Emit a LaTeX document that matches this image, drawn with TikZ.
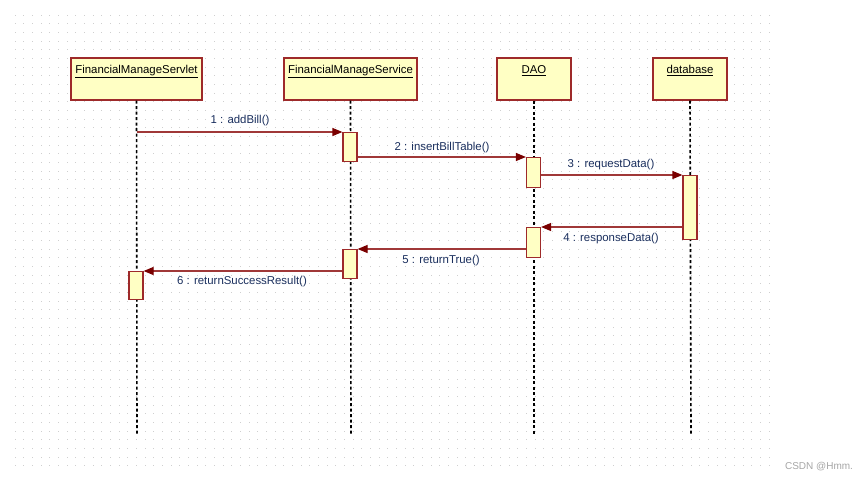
\documentclass[tikz,border=0pt]{standalone}
\usepackage{fontspec}
\setmainfont{Liberation Sans}
\usetikzlibrary{arrows.meta,calc}
\definecolor{boxfill}{HTML}{FFFFC4}
\definecolor{boxline}{HTML}{9E2A2A}
\definecolor{msgline}{HTML}{A03838}
\definecolor{tipcol}{HTML}{7A0000}
\definecolor{lblcol}{HTML}{1A2F5E}
\definecolor{gridcol}{HTML}{CFCFCF}
\tikzset{
  x=1pt, y=-1pt,
  objbox/.style={draw=boxline, fill=boxfill, line width=1.2pt, minimum height=42pt, inner sep=0pt},
  objtitle/.style={font=\fontsize{11.4}{13}\selectfont, text=black, inner sep=0pt, anchor=north},
  actbar/.style={draw=boxline, fill=boxfill, line width=1.2pt, minimum width=14pt, inner sep=0pt, anchor=north},
  lifeline/.style={draw=black, line width=1.6pt, dash pattern=on 3pt off 2.5pt},
  msg/.style={draw=msgline, line width=1.2pt, -{Triangle[length=10pt,width=8pt,fill=tipcol,color=tipcol]}},
  msglbl/.style={font=\fontsize{11.4}{13}\selectfont, text=lblcol, inner sep=0pt},
}
\begin{document}
\begin{tikzpicture}
\useasboundingbox (0,0) rectangle (866,480);
\fill[white] (0,0) rectangle (866,480);
% dot grid
\foreach \i in {0,...,87} {
  \foreach \j in {0,...,52} {
    \fill[gridcol] ({15+\i*8.67-0.5},{15+\j*8.67-0.5}) rectangle ++(1,1);
  }
}
% object boxes
\node[objbox, minimum width=131pt] (servlet) at (136.5,79) {};
\node[objbox, minimum width=133pt] (service) at (350.5,79) {};
\node[objbox, minimum width=74pt] (dao) at (534,79) {};
\node[objbox, minimum width=74pt] (db) at (690,79) {};
\node[objtitle] (tservlet) at ([yshift=-8pt]servlet.north) {\underline{FinancialManageServlet}};
\node[objtitle] (tservice) at ([yshift=-8pt]service.north) {\underline{FinancialManageService}};
\node[objtitle] (tdao) at ([yshift=-8pt]dao.north) {\underline{DAO}};
\node[objtitle] (tdb) at ([yshift=-8pt]db.north) {\underline{database}};
% lifeline ends
\coordinate (eservlet) at (137,435);
\coordinate (eservice) at (351,435);
\coordinate (edao) at (534,435);
\coordinate (edb) at (691,435);
\draw[lifeline] (servlet.south) -- (eservlet);
\draw[lifeline] (service.south) -- (eservice);
\draw[lifeline] (dao.south) -- (edao);
\draw[lifeline] (db.south) -- (edb);
% activation bars
\node[actbar, minimum height=29pt] (a1) at (350,132) {};
\node[actbar, minimum height=30pt] (a2) at (533.5,157) {};
\node[actbar, minimum height=64pt] (a3) at (690,175) {};
\node[actbar, minimum height=30pt] (a4) at (533.5,227) {};
\node[actbar, minimum height=29pt] (a5) at (350,249) {};
\node[actbar, minimum height=28pt] (a6) at (136,271) {};
% messages
\draw[msg] (servlet.south |- a1.north) -- (a1.north west);
\draw[msg] (a1.east |- a2.north) -- (a2.north west);
\draw[msg] (a2.east |- a3.north) -- (a3.north west);
\draw[msg] (a3.west |- a4.north) -- (a4.north east);
\draw[msg] (a4.west |- a5.north) -- (a5.north east);
\draw[msg] (a5.west |- a6.north) -- (a6.north east);
% labels
\node[msglbl] (l1) at (240,121) {1 : addBill()};
\node[msglbl] (l2) at (442,148) {2 : insertBillTable()};
\node[msglbl] (l3) at (611,165) {3 : requestData()};
\node[msglbl] (l4) at (611,239) {4 : responseData()};
\node[msglbl] (l5) at (441,261) {5 : returnTrue()};
\node[msglbl] (l6) at (242,282) {6 : returnSuccessResult()};
% watermark
\node[font=\fontsize{10}{12}\selectfont, text=gray!70, inner sep=0pt] (wm) at (819,467) {CSDN @Hmm.};
\end{tikzpicture}
\end{document}
